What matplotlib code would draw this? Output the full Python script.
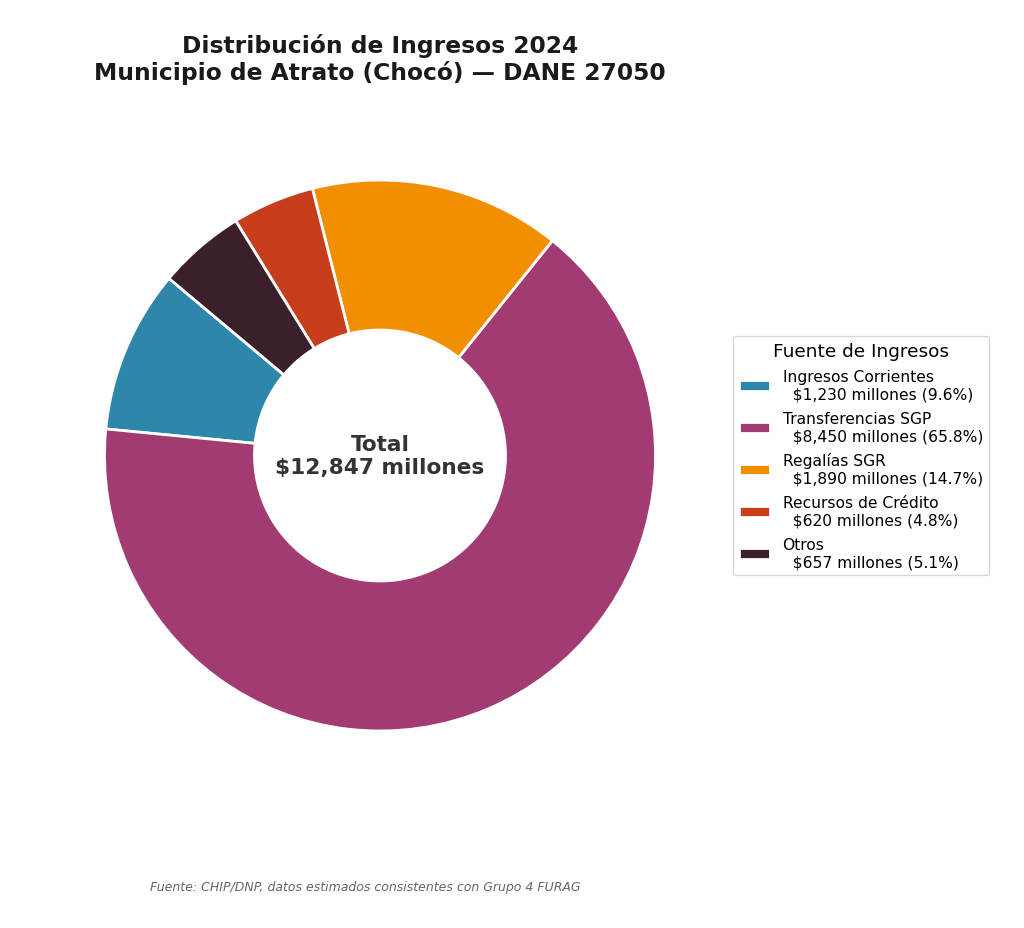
import matplotlib
matplotlib.use("Agg")
import matplotlib.pyplot as plt

categories = ["Ingresos Corrientes", "Transferencias SGP", "Regalías SGR",
              "Recursos de Crédito", "Otros"]
values = [1230, 8450, 1890, 620, 657]
colors = ["#2E86AB", "#A23B72", "#F18F01", "#C73E1D", "#3B1F2B"]

total = sum(values)
W, H = 1024, 929
fig = plt.figure(figsize=(W / 100, H / 100), dpi=100)

r_px = 275.5
S = 2.4 * r_px
cx, cy = 380, H - 456.5
ax = fig.add_axes([(cx - S / 2) / W, (cy - S / 2) / H, S / W, S / H])

wedges, _ = ax.pie(values, colors=colors, startangle=140, counterclock=True,
                   radius=1.0,
                   wedgeprops=dict(width=0.5445, edgecolor="white", linewidth=2))
ax.set_xlim(-1.2, 1.2)
ax.set_ylim(-1.2, 1.2)
ax.set_aspect("equal")
ax.axis("off")

ax.text(0, 0, f"Total\n${total:,} millones", ha="center", va="center",
        fontsize=15.6, fontweight="bold", color="#333333", linespacing=1.15)

labels = [f"{c}\n  ${v:,} millones ({v / total * 100:.1f}%)"
          for c, v in zip(categories, values)]
leg = fig.legend(wedges, labels, title="Fuente de Ingresos", loc="center left",
                 bbox_to_anchor=(733 / W, 1 - 456.5 / H), borderaxespad=0,
                 fontsize=11.15, title_fontsize=13.3, frameon=True,
                 handlelength=2.0, labelspacing=0.6)

fig.text(380 / W, 1 - 59.5 / H,
         "Distribución de Ingresos 2024\nMunicipio de Atrato (Chocó) — DANE 27050",
         ha="center", va="center", fontsize=16.8, fontweight="bold",
         color="#1a1a1a", linespacing=1.15)

fig.text(150 / W, 1 - 888 / H,
         "Fuente: CHIP/DNP, datos estimados consistentes con Grupo 4 FURAG",
         ha="left", va="center", fontsize=9, style="italic", color="#666666")

fig.savefig("out.png", dpi=100, facecolor="white")
